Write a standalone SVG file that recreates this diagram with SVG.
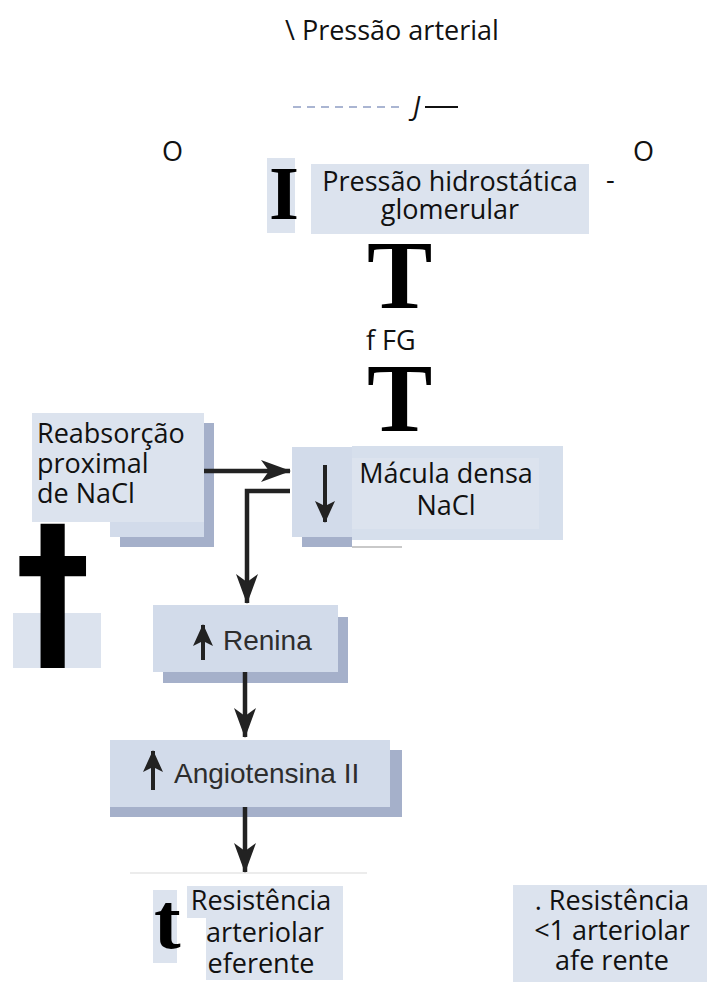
<svg xmlns="http://www.w3.org/2000/svg" width="707" height="983" viewBox="0 0 707 983">
  <defs>
    <style>
      .t { font-family: "Open Sans", "Noto Sans", sans-serif; font-size: 27px; fill: #111; }
      .m { text-anchor: middle; }
      .h { font-family: "Liberation Sans", Arial, sans-serif; font-size: 28px; fill: #2d2d2d; }
      .big { font-family: "Liberation Serif", "Times New Roman", serif; font-weight: bold; fill: #000; }
      .lbl { fill: #dce3ee; }
      .box { fill: #d2dbea; }
      .shd { fill: #a5b0ca; }
      .wire { fill: none; stroke: #222; stroke-width: 4.5; }
      .tiny { fill: none; stroke: #222; stroke-width: 4; }
    </style>
    <marker id="ah" viewBox="0 0 30 22" refX="29" refY="11" markerWidth="30" markerHeight="22" markerUnits="userSpaceOnUse" orient="auto">
      <path d="M0,0 L30,11 L0,22 L8,11 Z" fill="#222"/>
    </marker>
    <marker id="as" viewBox="0 0 22 20" refX="21" refY="10" markerWidth="22" markerHeight="20" markerUnits="userSpaceOnUse" orient="auto">
      <path d="M0,0 L22,10 L0,20 L5,10 Z" fill="#222"/>
    </marker>
  </defs>

  <rect width="707" height="983" fill="#fff"/>

  <!-- title -->
  <g id="pressao-arterial">
    <text class="t" x="285" y="40">\ Pressão arterial</text>
    <line x1="293" y1="107" x2="400" y2="107" stroke="#aab5d2" stroke-width="2" stroke-dasharray="8,6"/>
    <text class="t" x="413" y="116" font-style="italic">J</text>
    <line x1="425" y1="107" x2="458" y2="107" stroke="#111" stroke-width="2"/>
  </g>

  <g id="marks-o">
    <text class="t" x="162" y="161">O</text>
    <text class="t" x="633" y="161">O</text>
    <text class="t" x="606" y="189">-</text>
  </g>

  <!-- glomerular hydrostatic pressure -->
  <g id="pressao-hidrostatica">
    <rect class="lbl" x="267" y="158" width="28" height="75"/>
    <text class="big" x="269" y="219" font-size="77">I</text>
    <rect class="lbl" x="311" y="164" width="278" height="70"/>
    <text class="t m" x="450" y="191">Pressão hidrostática</text>
    <text class="t m" x="450" y="219">glomerular</text>
  </g>

  <g id="tfg">
    <text class="big" x="367" y="308" font-size="98">T</text>
    <text class="t" x="366" y="350">f FG</text>
    <text class="big" x="367" y="431" font-size="98">T</text>
  </g>

  <!-- proximal NaCl reabsorption -->
  <g id="reabsorcao">
    <rect class="shd" x="120" y="423" width="94" height="124"/>
    <rect class="box" x="110" y="413" width="94" height="124"/>
    <rect class="lbl" x="32" y="413" width="172" height="109"/>
    <text class="t" x="37" y="443">Reabsorção</text>
    <text class="t" x="37" y="473">proximal</text>
    <text class="t" x="37" y="503">de NaCl</text>
  </g>

  <g id="cruz">
    <rect class="lbl" x="13" y="613" width="88" height="55"/>
    <text transform="translate(53,651) scale(1,1.17)" x="0" y="0" font-family="DejaVu Sans, sans-serif" font-weight="bold" font-size="150" text-anchor="middle" fill="#000">†</text>
  </g>

  <!-- macula densa -->
  <g id="macula-densa">
    <rect class="shd" x="302" y="537" width="50" height="10"/>
    <line x1="352" y1="547" x2="402" y2="547" stroke="#c9c9c9" stroke-width="2"/>
    <rect class="box" x="292" y="447" width="62" height="90"/>
    <rect fill="#d6dfec" x="352" y="446" width="211" height="94"/>
    <rect class="lbl" x="352" y="458" width="187" height="71"/>
    <line class="tiny" x1="325" y1="465" x2="325" y2="522" marker-end="url(#as)"/>
    <text class="t m" x="446" y="483">Mácula densa</text>
    <text class="t m" x="446" y="515">NaCl</text>
  </g>

  <!-- renin -->
  <g id="renina">
    <rect class="shd" x="163" y="617" width="185" height="66"/>
    <rect class="box" x="153" y="605" width="185" height="67"/>
    <line class="tiny" x1="203" y1="660" x2="203" y2="625" marker-end="url(#as)"/>
    <text class="h" x="223" y="650">Renina</text>
  </g>

  <!-- angiotensin II -->
  <g id="angiotensina">
    <rect class="shd" x="110" y="750" width="292" height="67"/>
    <rect class="box" x="110" y="740" width="280" height="67"/>
    <line class="tiny" x1="153" y1="790" x2="153" y2="751" marker-end="url(#as)"/>
    <text class="h" x="174" y="783">Angiotensina II</text>
  </g>

  <!-- efferent arteriolar resistance -->
  <g id="resistencia-eferente">
    <line x1="130" y1="873" x2="367" y2="873" stroke="#ececec" stroke-width="2"/>
    <rect class="lbl" x="153" y="890" width="24" height="73"/>
    <text class="big" x="154" y="948" font-size="80">t</text>
    <rect class="lbl" x="187" y="886" width="156" height="32"/>
    <rect class="lbl" x="206" y="918" width="137" height="62"/>
    <text class="t m" x="261" y="910">Resistência</text>
    <text class="t m" x="265" y="942">arteriolar</text>
    <text class="t m" x="261" y="973">eferente</text>
  </g>

  <!-- afferent arteriolar resistance -->
  <g id="resistencia-aferente">
    <rect class="lbl" x="513" y="885" width="194" height="97"/>
    <text class="t m" x="612" y="910">. Resistência</text>
    <text class="t m" x="612" y="940">&lt;1 arteriolar</text>
    <text class="t m" x="612" y="970">afe rente</text>
  </g>

  <!-- connectors -->
  <g id="connectors">
    <line class="wire" x1="204" y1="471" x2="290" y2="471" marker-end="url(#ah)"/>
    <path class="wire" d="M290,491 H247 V603" marker-end="url(#ah)"/>
    <line class="wire" x1="245" y1="672" x2="245" y2="737" marker-end="url(#ah)"/>
    <line class="wire" x1="245" y1="807" x2="245" y2="872" marker-end="url(#ah)"/>
  </g>
</svg>
